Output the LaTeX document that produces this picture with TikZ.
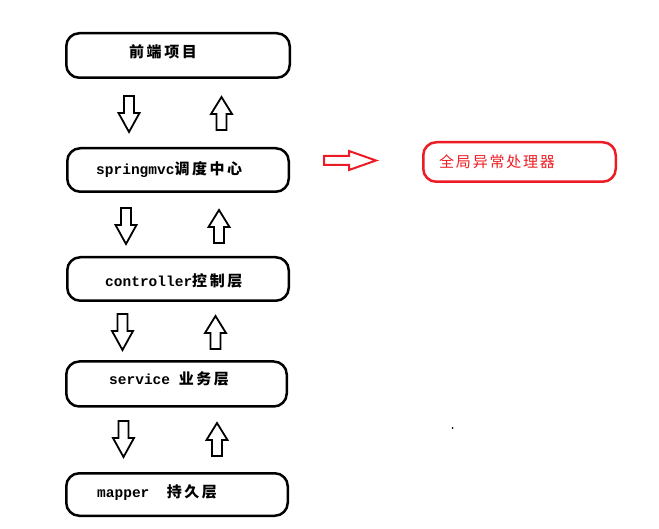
\documentclass[tikz,border=0pt]{standalone}
\usepackage{fontspec}
\setmonofont{Liberation Mono}
\newfontfamily\zhfont[LetterSpace=17]{Noto Sans CJK SC}
\newfontfamily\zhredfont[LetterSpace=12]{Noto Sans CJK SC}
\definecolor{pred}{RGB}{237,28,36}
\newcommand{\la}[1]{{\fontsize{14.5pt}{16pt}\selectfont\ttfamily\bfseries #1}}
\newcommand{\zh}[1]{{\fontsize{15pt}{17pt}\selectfont\zhfont\bfseries #1}}
\newcommand{\zhr}[1]{{\fontsize{15pt}{17pt}\selectfont\zhredfont #1}}
\tikzset{
  layer/.style={draw=black, line width=2.5pt, rounded corners=13pt, inner sep=0pt},
  redbox/.style={draw=pred, line width=2.5pt, rounded corners=13pt, inner sep=0pt},
  lbl/.style={anchor=west, inner sep=0pt},
  arrline/.style={draw=black, line width=1.8pt, line join=miter},
  darr/.pic={\path[arrline] (-5,0) -- (5,0) -- (5,17) -- (10.5,17) -- (0,36) -- (-10.5,17) -- (-5,17) -- cycle;},
  uarr/.pic={\path[arrline] (0,0) -- (10.5,17) -- (5,17) -- (5,33) -- (-5,33) -- (-5,17) -- (-10.5,17) -- cycle;}
}
\begin{document}
\begin{tikzpicture}[x=1pt,y=-1pt]
\useasboundingbox (0,0) rectangle (659,529);
% layer boxes
\node[layer, minimum width=223.5pt, minimum height=44.5pt] (b1) at (178,55.5) {};
\node[layer, minimum width=221.5pt, minimum height=43.5pt] (b2) at (178,170) {};
\node[layer, minimum width=221.5pt, minimum height=43.5pt] (b3) at (178,279) {};
\node[layer, minimum width=220.5pt, minimum height=45pt] (b4) at (176.5,384) {};
\node[layer, minimum width=221.5pt, minimum height=42.5pt] (b5) at (177,494.5) {};
\node[redbox, minimum width=192.5pt, minimum height=39.5pt] (err) at (519.5,162) {};
% labels
\node[lbl] (t1) at (129,52) {\zh{前端项目}};
\node[lbl] (t2) at (96,170) {\la{springmvc}\zh{调度中心}};
\node[lbl] (t3) at (105,281) {\la{controller}\zh{控制层}};
\node[lbl] (t4) at (109,379) {\la{service~}\zh{业务层}};
\node[lbl] (t5) at (97,493) {\la{mapper~~}\zh{持久层}};
\node[lbl, text=pred] (t6) at (439,162) {\zhr{全局异常处理器}};
% block arrows
\pic at (129,96) {darr};
\pic at (221.5,97) {uarr};
\pic at (126,208) {darr};
\pic at (219,210) {uarr};
\pic at (122.5,314) {darr};
\pic at (215.5,316) {uarr};
\pic at (123.5,421) {darr};
\pic at (217,423) {uarr};
% red arrow
\draw[pred, line width=2pt, line join=miter] (324,156) -- (349,156) -- (349,151) -- (376,160.5) -- (349,170) -- (349,165) -- (324,165) -- cycle;
% stray dot
\fill (452.5,428) circle (1pt);
\end{tikzpicture}
\end{document}
